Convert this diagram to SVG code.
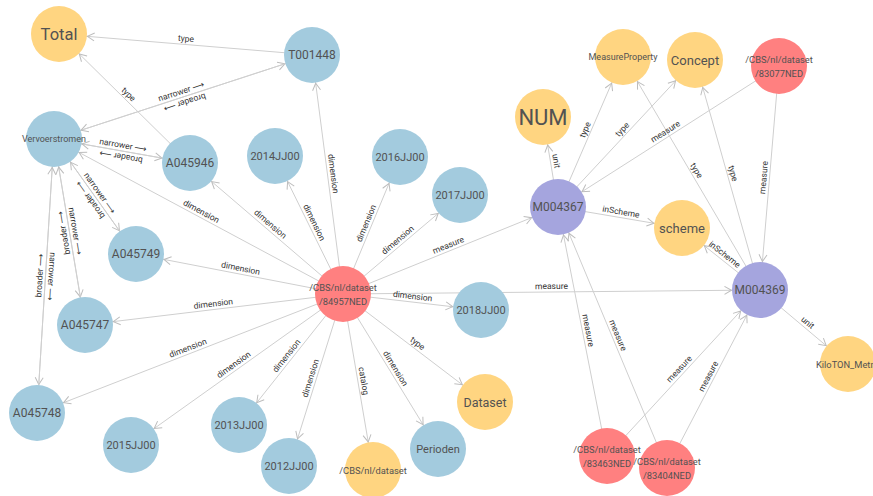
<svg xmlns="http://www.w3.org/2000/svg" width="873" height="496" viewBox="0 0 873 496">
<style>
.bg{fill:#fff}
.blue{fill:#A3CBDE}
.yel{fill:#FFD581}
.red{fill:#FF8080}
.pur{fill:#A5A5DE}
.t{font-family:Roboto,"Liberation Sans",sans-serif;fill:#525252;text-anchor:middle;dominant-baseline:central}
#edges line{stroke:#cfcfcf;stroke-width:1;marker-end:url(#arr)}
.el{font-family:Roboto,"DejaVu Sans",sans-serif;font-size:8.5px;fill:#333;text-anchor:middle}
</style>
<defs>
<marker id="arr" markerUnits="userSpaceOnUse" viewBox="-10 -6 40 12" markerWidth="40" markerHeight="12" refX="28.5" refY="0" orient="auto">
<path d="M-7,-4 L0,0 L-7,4" fill="none" stroke="#bdbdbd" stroke-width="1"/>
</marker>
</defs>
<rect class="bg" x="0" y="0" width="873" height="496"/>
<g id="edges">
<line x1="343" y1="294" x2="312" y2="55"/>
<line x1="343" y1="294" x2="54" y2="139"/>
<line x1="343" y1="294" x2="190" y2="163"/>
<line x1="343" y1="294" x2="275" y2="156"/>
<line x1="343" y1="294" x2="400" y2="157"/>
<line x1="343" y1="294" x2="460" y2="195"/>
<line x1="343" y1="294" x2="136" y2="254"/>
<line x1="343" y1="294" x2="85" y2="325"/>
<line x1="343" y1="294" x2="37" y2="413"/>
<line x1="343" y1="294" x2="131" y2="445"/>
<line x1="343" y1="294" x2="239" y2="425"/>
<line x1="343" y1="294" x2="289" y2="466"/>
<line x1="343" y1="294" x2="438" y2="449"/>
<line x1="343" y1="294" x2="481" y2="310"/>
<line x1="343" y1="294" x2="485" y2="402"/>
<line x1="343" y1="294" x2="373" y2="470"/>
<line x1="343" y1="294" x2="558" y2="207"/>
<line x1="343" y1="294" x2="760" y2="290"/>
<line x1="312" y1="55" x2="59" y2="34"/>
<line x1="190" y1="163" x2="59" y2="34"/>
<line x1="54" y1="139" x2="312" y2="55"/>
<line x1="312" y1="55" x2="54" y2="139"/>
<line x1="54" y1="139" x2="190" y2="163"/>
<line x1="190" y1="163" x2="54" y2="139"/>
<line x1="54" y1="139" x2="136" y2="254"/>
<line x1="136" y1="254" x2="54" y2="139"/>
<line x1="54" y1="139" x2="85" y2="325"/>
<line x1="85" y1="325" x2="54" y2="139"/>
<line x1="54" y1="139" x2="37" y2="413"/>
<line x1="37" y1="413" x2="54" y2="139"/>
<line x1="558" y1="207" x2="543" y2="117"/>
<line x1="558" y1="207" x2="623" y2="57"/>
<line x1="558" y1="207" x2="695" y2="60"/>
<line x1="779" y1="66" x2="558" y2="207"/>
<line x1="558" y1="207" x2="682" y2="228"/>
<line x1="607" y1="456" x2="558" y2="207"/>
<line x1="667" y1="468" x2="558" y2="207"/>
<line x1="760" y1="290" x2="623" y2="57"/>
<line x1="760" y1="290" x2="695" y2="60"/>
<line x1="779" y1="66" x2="760" y2="290"/>
<line x1="760" y1="290" x2="682" y2="228"/>
<line x1="760" y1="290" x2="848" y2="364"/>
<line x1="607" y1="456" x2="760" y2="290"/>
<line x1="667" y1="468" x2="760" y2="290"/>
</g>
<g id="edge-labels">
<text class="el" transform="translate(327.5,174.5) rotate(82.6)" y="-3">dimension</text>
<text class="el" transform="translate(198.5,216.5) rotate(28.2)" y="-3">dimension</text>
<text class="el" transform="translate(266.5,228.5) rotate(40.6)" y="-3">dimension</text>
<text class="el" transform="translate(309,225) rotate(63.8)" y="-3">dimension</text>
<text class="el" transform="translate(371.5,225.5) rotate(-67.4)" y="-3">dimension</text>
<text class="el" transform="translate(401.5,244.5) rotate(-40.2)" y="-3">dimension</text>
<text class="el" transform="translate(239.5,274) rotate(10.9)" y="-3">dimension</text>
<text class="el" transform="translate(214,309.5) rotate(-6.9)" y="-3">dimension</text>
<text class="el" transform="translate(190,353.5) rotate(-21.25)" y="-3">dimension</text>
<text class="el" transform="translate(237,369.5) rotate(-35.5)" y="-3">dimension</text>
<text class="el" transform="translate(291,359.5) rotate(-51.6)" y="-3">dimension</text>
<text class="el" transform="translate(316,380) rotate(-72.6)" y="-3">dimension</text>
<text class="el" transform="translate(390.5,371.5) rotate(58.5)" y="-3">dimension</text>
<text class="el" transform="translate(412,302) rotate(6.6)" y="-3">dimension</text>
<text class="el" transform="translate(414,348) rotate(37.3)" y="-3">type</text>
<text class="el" transform="translate(358,382) rotate(80.3)" y="-3">catalog</text>
<text class="el" transform="translate(450.5,250.5) rotate(-22)" y="-3">measure</text>
<text class="el" transform="translate(551.5,292) rotate(-0.55)" y="-3">measure</text>
<text class="el" transform="translate(185.5,44.5) rotate(4.7)" y="-3">type</text>
<text class="el" transform="translate(124.5,98.5) rotate(44.6)" y="-3">type</text>
<text class="el" transform="translate(183,97) rotate(-18)" y="-3">narrower ⟶</text>
<text class="el" transform="translate(183,97) rotate(162)" y="-3">broader ⟶</text>
<text class="el" transform="translate(122,151) rotate(10)" y="-3">narrower ⟶</text>
<text class="el" transform="translate(122,151) rotate(190)" y="-3">broader ⟶</text>
<text class="el" transform="translate(95,196.5) rotate(54.5)" y="-3">narrower ⟶</text>
<text class="el" transform="translate(95,196.5) rotate(-125.5)" y="-3">broader ⟶</text>
<text class="el" transform="translate(69.5,232) rotate(80.5)" y="-3">narrower ⟶</text>
<text class="el" transform="translate(69.5,232) rotate(-99.5)" y="-3">broader ⟶</text>
<text class="el" transform="translate(45.5,276) rotate(93.55)" y="-3">narrower ⟶</text>
<text class="el" transform="translate(45.5,276) rotate(-86.45)" y="-3">broader ⟶</text>
<text class="el" transform="translate(550.5,162) rotate(80.5)" y="-3">unit</text>
<text class="el" transform="translate(590.5,132) rotate(-66.6)" y="-3">type</text>
<text class="el" transform="translate(626.5,133.5) rotate(-47)" y="-3">type</text>
<text class="el" transform="translate(668.5,136.5) rotate(-32.5)" y="-3">measure</text>
<text class="el" transform="translate(620,217.5) rotate(9.6)" y="-3">inScheme</text>
<text class="el" transform="translate(582.5,331.5) rotate(78.9)" y="-3">measure</text>
<text class="el" transform="translate(612.5,337.5) rotate(67.3)" y="-3">measure</text>
<text class="el" transform="translate(691.5,173.5) rotate(59.5)" y="-3">type</text>
<text class="el" transform="translate(727.5,175) rotate(74.2)" y="-3">type</text>
<text class="el" transform="translate(769.5,178) rotate(-85.15)" y="-3">measure</text>
<text class="el" transform="translate(721,259) rotate(38.5)" y="-3">inScheme</text>
<text class="el" transform="translate(804,327) rotate(40.1)" y="-3">unit</text>
<text class="el" transform="translate(683.5,373) rotate(-47.3)" y="-3">measure</text>
<text class="el" transform="translate(713.5,379) rotate(-62.4)" y="-3">measure</text>
</g>
<g id="n-total"><circle class="yel" cx="59" cy="34" r="28"/><text class="t" x="59" y="34" font-size="16.5">Total</text></g>
<g id="n-t001448"><circle class="blue" cx="312" cy="55" r="28"/><text class="t" x="312" y="55" font-size="12">T001448</text></g>
<g id="n-vervoerstromen"><circle class="blue" cx="54" cy="139" r="28"/><text class="t" x="54" y="139" font-size="9">Vervoerstromen</text></g>
<g id="n-a045946"><circle class="blue" cx="190" cy="163" r="28"/><text class="t" x="190" y="163" font-size="12">A045946</text></g>
<g id="n-2014"><circle class="blue" cx="275" cy="156" r="28"/><text class="t" x="275" y="156" font-size="11">2014JJ00</text></g>
<g id="n-2016"><circle class="blue" cx="400" cy="157" r="28"/><text class="t" x="400" y="157" font-size="11">2016JJ00</text></g>
<g id="n-2017"><circle class="blue" cx="460" cy="195" r="28"/><text class="t" x="460" y="195" font-size="11">2017JJ00</text></g>
<g id="n-num"><circle class="yel" cx="543" cy="117" r="28"/><text class="t" x="543" y="117" font-size="22">NUM</text></g>
<g id="n-m004367"><circle class="pur" cx="558" cy="207" r="28"/><text class="t" x="558" y="207" font-size="12">M004367</text></g>
<g id="n-measureproperty"><circle class="yel" cx="623" cy="57" r="28"/><text class="t" x="623" y="57" font-size="9">MeasureProperty</text></g>
<g id="n-concept"><circle class="yel" cx="695" cy="60" r="28"/><text class="t" x="695" y="60" font-size="13">Concept</text></g>
<g id="n-83077ned"><circle class="red" cx="779" cy="66" r="28"/><text class="t" x="779" y="59" font-size="9.3">/CBS/nl/dataset</text><text class="t" x="779" y="73" font-size="9.3">/83077NED</text></g>
<g id="n-scheme"><circle class="yel" cx="682" cy="228" r="28"/><text class="t" x="682" y="228" font-size="13">scheme</text></g>
<g id="n-m004369"><circle class="pur" cx="760" cy="290" r="28"/><text class="t" x="760" y="290" font-size="12">M004369</text></g>
<g id="n-kiloton"><circle class="yel" cx="848" cy="364" r="28"/><text class="t" x="816" y="364" font-size="9.3" style="text-anchor:start">KiloTON_Metr</text></g>
<g id="n-83463ned"><circle class="red" cx="607" cy="456" r="28"/><text class="t" x="607" y="449" font-size="9.3">/CBS/nl/dataset</text><text class="t" x="607" y="463" font-size="9.3">/83463NED</text></g>
<g id="n-83404ned"><circle class="red" cx="667" cy="468" r="28"/><text class="t" x="667" y="461" font-size="9.3">/CBS/nl/dataset</text><text class="t" x="667" y="475" font-size="9.3">/83404NED</text></g>
<g id="n-a045749"><circle class="blue" cx="136" cy="254" r="28"/><text class="t" x="136" y="254" font-size="12">A045749</text></g>
<g id="n-a045747"><circle class="blue" cx="85" cy="325" r="28"/><text class="t" x="85" y="325" font-size="12">A045747</text></g>
<g id="n-a045748"><circle class="blue" cx="37" cy="413" r="28"/><text class="t" x="37" y="413" font-size="12">A045748</text></g>
<g id="n-2015"><circle class="blue" cx="131" cy="445" r="28"/><text class="t" x="131" y="445" font-size="11">2015JJ00</text></g>
<g id="n-2013"><circle class="blue" cx="239" cy="425" r="28"/><text class="t" x="239" y="425" font-size="11">2013JJ00</text></g>
<g id="n-2012"><circle class="blue" cx="289" cy="466" r="28"/><text class="t" x="289" y="466" font-size="11">2012JJ00</text></g>
<g id="n-84957ned"><circle class="red" cx="343" cy="294" r="28"/><text class="t" x="343" y="287" font-size="9.3">/CBS/nl/dataset</text><text class="t" x="343" y="301" font-size="9.3">/84957NED</text></g>
<g id="n-2018"><circle class="blue" cx="481" cy="310" r="28"/><text class="t" x="481" y="310" font-size="11">2018JJ00</text></g>
<g id="n-dataset"><circle class="yel" cx="485" cy="402" r="28"/><text class="t" x="485" y="402" font-size="12.5">Dataset</text></g>
<g id="n-perioden"><circle class="blue" cx="438" cy="449" r="28"/><text class="t" x="438" y="449" font-size="11">Perioden</text></g>
<g id="n-cbs"><circle class="yel" cx="373" cy="470" r="28"/><text class="t" x="373" y="470" font-size="9.3">/CBS/nl/dataset</text></g>
</svg>
